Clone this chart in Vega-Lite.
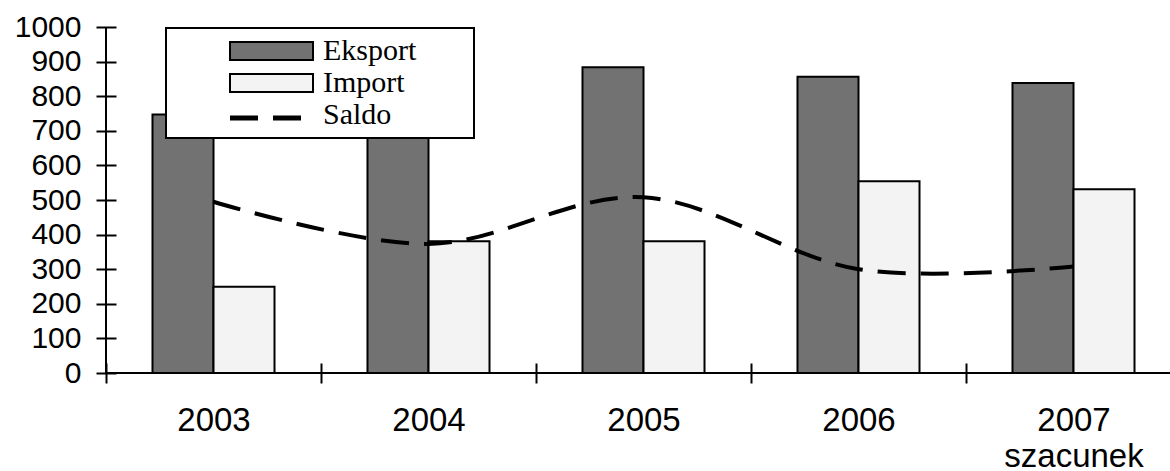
{
  "$schema": "https://vega.github.io/schema/vega-lite/v6.json",
  "width": 1064,
  "height": 346,
  "autosize": {"type": "none"},
  "padding": {"left": 106, "top": 27, "right": 0, "bottom": 98},
  "background": "white",
  "config": {
    "view": {"stroke": null},
    "axis": {"grid": false, "domainColor": "black", "tickColor": "black", "labelColor": "black", "domainWidth": 2, "tickWidth": 2, "labelFont": "Liberation Sans", "title": null},
    "axisY": {"orient": "left", "offset": -10, "values": [0, 100, 200, 300, 400, 500, 600, 700, 800, 900, 1000], "tickCount": 11, "format": "d", "tickSize": 20, "domain": false, "labelFontSize": 30, "labelPadding": 15, "labelOverlap": false},
    "axisX": {"orient": "bottom", "offset": -10, "tickSize": 20, "domain": false, "tickBand": "extent", "labelFontSize": 33, "labelPadding": 21, "labelAngle": 0, "labelLineHeight": 36, "labelOverlap": false},
    "legend": {"strokeWidth": 2}
  },
  "datasets": {
    "handel": [
      {"Rok": "2003", "Seria": "Eksport", "Wartosc": 747},
      {"Rok": "2003", "Seria": "Import", "Wartosc": 249},
      {"Rok": "2004", "Seria": "Eksport", "Wartosc": 754},
      {"Rok": "2004", "Seria": "Import", "Wartosc": 381},
      {"Rok": "2005", "Seria": "Eksport", "Wartosc": 884},
      {"Rok": "2005", "Seria": "Import", "Wartosc": 381},
      {"Rok": "2006", "Seria": "Eksport", "Wartosc": 856},
      {"Rok": "2006", "Seria": "Import", "Wartosc": 554},
      {"Rok": "2007", "Seria": "Eksport", "Wartosc": 838},
      {"Rok": "2007", "Seria": "Import", "Wartosc": 531}
    ],
    "saldo": [
      {"Rok": "2003", "Seria": "Saldo", "Wartosc": 495},
      {"Rok": "2004", "Seria": "Saldo", "Wartosc": 373},
      {"Rok": "2005", "Seria": "Saldo", "Wartosc": 508},
      {"Rok": "2006", "Seria": "Saldo", "Wartosc": 300},
      {"Rok": "2007", "Seria": "Saldo", "Wartosc": 308}
    ]
  },
  "layer": [
    {
      "data": {"name": "handel"},
      "mark": {"type": "bar", "strokeWidth": 2},
      "encoding": {
        "x": {
          "field": "Rok", "type": "nominal",
          "scale": {"paddingInner": 0, "paddingOuter": 0, "range": [0, 1075]},
          "axis": {"labelExpr": "datum.value == '2007' ? ['2007', 'szacunek'] : datum.value"}
        },
        "xOffset": {"field": "Seria", "type": "nominal", "scale": {"domain": ["Eksport", "Import"], "paddingInner": 0, "paddingOuter": 0.762}},
        "y": {
          "field": "Wartosc", "type": "quantitative",
          "scale": {"domain": [0, 1000], "nice": false},
          "axis": {"values": [0, 100, 200, 300, 400, 500, 600, 700, 800, 900, 1000], "tickCount": 11}
        },
        "fill": {
          "field": "Seria", "type": "nominal",
          "scale": {"domain": ["Eksport", "Import", "Saldo"], "range": ["#727272", "#f3f3f3", "transparent"]},
          "legend": {
            "orient": "none", "legendX": 60, "legendY": 1, "title": null, "direction": "vertical",
            "strokeColor": "black", "fillColor": "white", "padding": 8,
            "labelFont": "Liberation Serif", "labelFontSize": 30, "labelColor": "black",
            "symbolSize": 400, "symbolType": "M4.1,-0.9H12.4V0.9H4.1ZM27.3,0", "symbolStrokeWidth": 2,
            "labelOffset": 119, "rowPadding": 2
          }
        },
        "stroke": {
          "field": "Seria", "type": "nominal",
          "scale": {"domain": ["Eksport", "Import", "Saldo"], "range": ["black", "black", "transparent"]},
          "legend": {
            "orient": "none", "legendX": 60, "legendY": 1, "title": null, "direction": "vertical",
            "strokeColor": "black", "fillColor": "white", "padding": 8,
            "labelFont": "Liberation Serif", "labelFontSize": 30, "labelColor": "black",
            "symbolSize": 400, "symbolType": "M4.1,-0.9H12.4V0.9H4.1ZM27.3,0", "symbolStrokeWidth": 2,
            "labelOffset": 119, "rowPadding": 2
          }
        }
      }
    },
    {
      "data": {"name": "saldo"},
      "mark": {"type": "line", "interpolate": "cardinal", "strokeWidth": 4, "stroke": "black"},
      "encoding": {
        "x": {"field": "Rok", "type": "nominal", "axis": {"labelExpr": "datum.value == '2007' ? ['2007', 'szacunek'] : datum.value"}},
        "y": {"field": "Wartosc", "type": "quantitative", "axis": {"values": [0, 100, 200, 300, 400, 500, 600, 700, 800, 900, 1000], "tickCount": 11}},
        "strokeDash": {
          "field": "Seria", "type": "nominal",
          "scale": {"domain": ["Saldo"], "range": [[28, 15]]},
          "legend": {
            "orient": "none", "legendX": 60, "legendY": 68, "title": null, "direction": "vertical",
            "padding": 8, "labelFont": "Liberation Serif", "labelFontSize": 30, "labelExpr": "''",
            "symbolSize": 400, "symbolType": "M4.1,0H11.5", "symbolStrokeWidth": 5, "symbolStrokeColor": "black",
            "labelOffset": 119, "rowPadding": 2
          }
        }
      }
    },
    {
      "data": {"values": [{}]},
      "mark": {"type": "rule", "stroke": "black", "strokeWidth": 2},
      "encoding": {"y": {"datum": 0, "type": "quantitative", "axis": {"values": [0, 100, 200, 300, 400, 500, 600, 700, 800, 900, 1000], "tickCount": 11}}}
    },
    {
      "data": {"values": [{}]},
      "mark": {"type": "rule", "stroke": "black", "strokeWidth": 2},
      "encoding": {"x": {"datum": "2003", "type": "nominal", "bandPosition": 0, "axis": {"labelExpr": "datum.value == '2007' ? ['2007', 'szacunek'] : datum.value"}}}
    }
  ]
}
